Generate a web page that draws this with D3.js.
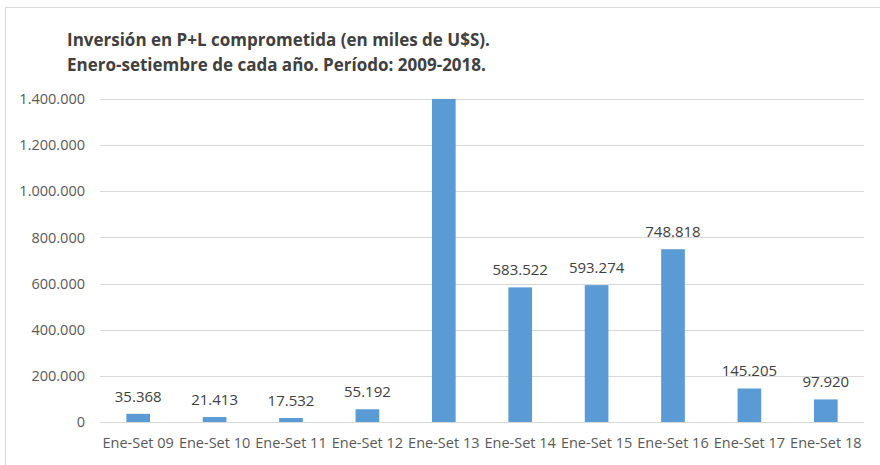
<!DOCTYPE html>
<html>
<head>
<meta charset="utf-8">
<script src="https://cdn.jsdelivr.net/npm/d3@7"></script>
<style>
  body { margin: 0; background: #fff; }
  text { font-family: "Open Sans", "Noto Sans", sans-serif; }
</style>
</head>
<body>
<div id="chart"></div>
<script>
// data
const categories = ["Ene-Set 09", "Ene-Set 10", "Ene-Set 11", "Ene-Set 12", "Ene-Set 13",
                    "Ene-Set 14", "Ene-Set 15", "Ene-Set 16", "Ene-Set 17", "Ene-Set 18"];
const values = [35368, 21413, 17532, 55192, 1650000, 583522, 593274, 748818, 145205, 97920];
const yTicks = [0, 200000, 400000, 600000, 800000, 1000000, 1200000, 1400000];
const titleLines = ["Inversión en P+L comprometida (en miles de U$S).",
                    "Enero-setiembre de cada año. Período: 2009-2018."];

const W = 880, H = 465;
const margin = {top: 99, right: 16, bottom: 43, left: 100};
const width = W - margin.left - margin.right;
const height = H - margin.top - margin.bottom;

const fmt = d3.formatLocale({decimal: ",", thousands: ".", grouping: [3], currency: ["", ""]}).format(",d");

const data = categories.map((c, i) => ({cat: c, value: values[i]}));

const svg = d3.select("#chart").append("svg")
    .attr("width", W)
    .attr("height", H);

// outer chart border
svg.append("rect")
    .attr("x", 5.5).attr("y", 7.5)
    .attr("width", W).attr("height", H)
    .attr("fill", "none")
    .attr("stroke", "#d9d9d9");

svg.selectAll(".title")
    .data(titleLines)
    .enter().append("text")
    .attr("class", "title")
    .attr("x", 67)
    .attr("y", (d, i) => 46 + i * 25)
    .attr("fill", "#404040")
    .style("font-size", "17px")
    .style("font-weight", "bold")
    .text(d => d);

const g = svg.append("g")
    .attr("transform", `translate(${margin.left},${margin.top})`);

const x = d3.scaleBand()
    .domain(categories)
    .range([0, width])
    .paddingInner(0.69)
    .paddingOuter(0.345);

const y = d3.scaleLinear()
    .domain([0, 1400000])
    .range([height, 0]);

// gridlines
g.append("g")
    .selectAll("line")
    .data(yTicks)
    .enter().append("line")
    .attr("x1", 0).attr("x2", width)
    .attr("y1", d => Math.round(y(d)) + 0.5)
    .attr("y2", d => Math.round(y(d)) + 0.5)
    .attr("stroke", "#d9d9d9");

// y axis labels
const yAxis = d3.axisLeft(y).tickValues(yTicks).tickFormat(fmt).tickSize(0).tickPadding(15);
g.append("g")
    .call(yAxis)
    .call(s => s.select(".domain").remove())
    .selectAll("text")
    .attr("fill", "#595959")
    .style("font-size", "14.5px");

// x axis labels
const xAxis = d3.axisBottom(x).tickSize(0).tickPadding(16);
g.append("g")
    .attr("transform", `translate(0,${height})`)
    .call(xAxis)
    .call(s => s.select(".domain").remove())
    .selectAll("text")
    .attr("fill", "#595959")
    .style("font-size", "14.5px");

const max = y.domain()[1];

// bars (clipped at top of value axis, like the original)
g.selectAll(".bar")
    .data(data)
    .enter().append("rect")
    .attr("class", "bar")
    .attr("x", d => x(d.cat))
    .attr("width", x.bandwidth())
    .attr("y", d => y(Math.min(d.value, max)))
    .attr("height", d => height - y(Math.min(d.value, max)))
    .attr("fill", "#5b9bd5");

// value labels (none for the clipped bar)
g.selectAll(".lbl")
    .data(data.filter(d => d.value <= max))
    .enter().append("text")
    .attr("class", "lbl")
    .attr("x", d => x(d.cat) + x.bandwidth() / 2)
    .attr("y", d => y(d.value) - 12)
    .attr("text-anchor", "middle")
    .attr("fill", "#404040")
    .style("font-size", "15px")
    .text(d => fmt(d.value));
</script>
</body>
</html>
